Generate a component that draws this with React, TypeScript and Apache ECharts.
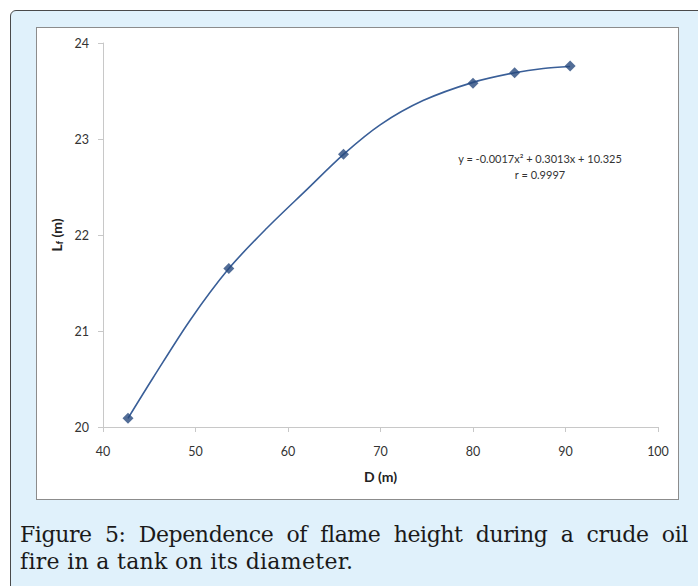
import React, { useEffect, useRef } from "react";
import * as echarts from "echarts";

const diameters = [42.7, 53.6, 66.0, 80.0, 84.5, 90.5];
const flameHeights = [20.09, 21.65, 22.84, 23.58, 23.69, 23.76];
// trendline
const trendX = [42.7, 45.4, 49.4, 53.6, 57.7, 62.0, 66.0, 70.0, 74.6, 80.0, 84.5, 87.6, 90.5];
const trendY = [20.09, 20.51, 21.11, 21.65, 22.07, 22.47, 22.84, 23.15, 23.40, 23.59, 23.69, 23.735, 23.755];
const xTicks = [40, 50, 60, 70, 80, 90, 100];
const yTicks = [20, 21, 22, 23, 24];
const equationText = "y = -0.0017x\u00B2 + 0.3013x + 10.325";
const rText = "r = 0.9997";
const captionLine1 = "Figure 5: Dependence of flame height during a crude oil";
const captionLine2 = "fire in a tank on its diameter.";

export default function App() {
  const ref = useRef<HTMLDivElement>(null);
  useEffect(() => {
    if (!ref.current) return;
    const chart = echarts.init(ref.current, null, { renderer: "svg" });
    const labelFont = "Lato, 'Noto Sans', sans-serif";
    chart.setOption({
      animation: false,
      backgroundColor: "#ffffff",
      grid: { left: 66, right: 20, top: 15, bottom: 72 },
      xAxis: {
        type: "value",
        min: xTicks[0],
        max: xTicks[xTicks.length - 1],
        interval: 10,
        name: "D (m)",
        nameLocation: "middle",
        nameGap: 42,
        nameTextStyle: { fontFamily: labelFont, fontSize: 14, fontWeight: "bold", color: "#222" },
        axisLine: { lineStyle: { color: "#c8c8c8", width: 1 } },
        axisTick: { show: true, inside: false, length: 5, lineStyle: { color: "#c8c8c8" } },
        axisLabel: { margin: 18, fontFamily: labelFont, fontSize: 12.5, color: "#333" },
        splitLine: { show: false },
      },
      yAxis: {
        type: "value",
        min: yTicks[0],
        max: yTicks[yTicks.length - 1],
        interval: 1,
        name: "{a|L}{b|f}{a| (m)}",
        nameLocation: "middle",
        nameRotate: 90,
        nameGap: 35,
        nameTextStyle: {
          rich: {
            a: { fontFamily: labelFont, fontSize: 14, fontWeight: "bold", color: "#222" },
            b: { fontFamily: labelFont, fontSize: 9, fontWeight: "bold", color: "#222", padding: [6, 0, 0, 0] },
          },
        },
        axisLine: { show: true, lineStyle: { color: "#c8c8c8", width: 1 } },
        axisTick: { show: true, inside: false, length: 5, lineStyle: { color: "#c8c8c8" } },
        axisLabel: { margin: 14, fontFamily: labelFont, fontSize: 12.5, color: "#333" },
        splitLine: { show: false },
      },
      series: [
        {
          type: "line",
          data: trendX.map((d, i) => [d, trendY[i]]),
          smooth: 0.3,
          showSymbol: false,
          symbol: "none",
          lineStyle: { color: "#3a5f98", width: 1.6 },
          z: 2,
        },
        {
          type: "scatter",
          data: diameters.map((d, i) => [d, flameHeights[i]]),
          symbol: "diamond",
          symbolSize: 11,
          itemStyle: { color: "#27497d" },
          z: 3,
        },
      ],
      graphic: [
        {
          type: "text",
          x: 503,
          y: 130,
          style: { text: equationText, fontFamily: labelFont, fontSize: 11, fill: "#333", align: "center", verticalAlign: "middle" },
        },
        {
          type: "text",
          x: 503,
          y: 146,
          style: { text: rText, fontFamily: labelFont, fontSize: 11, fill: "#333", align: "center", verticalAlign: "middle" },
        },
      ],
    });
    return () => chart.dispose();
  }, []);

  return (
    <div style={{ position: "absolute", left: 0, top: 0, width: 698, height: 586, overflow: "hidden", background: "#ffffff" }}>
      <div
        style={{
          position: "absolute",
          left: 10,
          top: 10,
          width: 720,
          height: 620,
          boxSizing: "border-box",
          border: "1.5px solid #4a4a4a",
          borderRadius: 6,
          background: "#e0f1fb",
        }}
      />
      <div
        style={{
          position: "absolute",
          left: 36,
          top: 27,
          width: 643,
          height: 473,
          boxSizing: "border-box",
          border: "1px solid #8c8c8c",
          background: "#ffffff",
        }}
      >
        <div ref={ref} style={{ width: 641, height: 471 }} />
      </div>
      <div
        style={{
          position: "absolute",
          left: 20,
          top: 521,
          width: 668,
          fontFamily: "'DejaVu Serif', serif",
          fontSize: 22,
          lineHeight: "27px",
          color: "#1a1a1a",
        }}
      >
        <div style={{ textAlign: "justify", textAlignLast: "justify", whiteSpace: "nowrap" as any, letterSpacing: -0.4 }}>{captionLine1}</div>
        <div style={{ letterSpacing: 0.3 }}>{captionLine2}</div>
      </div>
    </div>
  );
}
